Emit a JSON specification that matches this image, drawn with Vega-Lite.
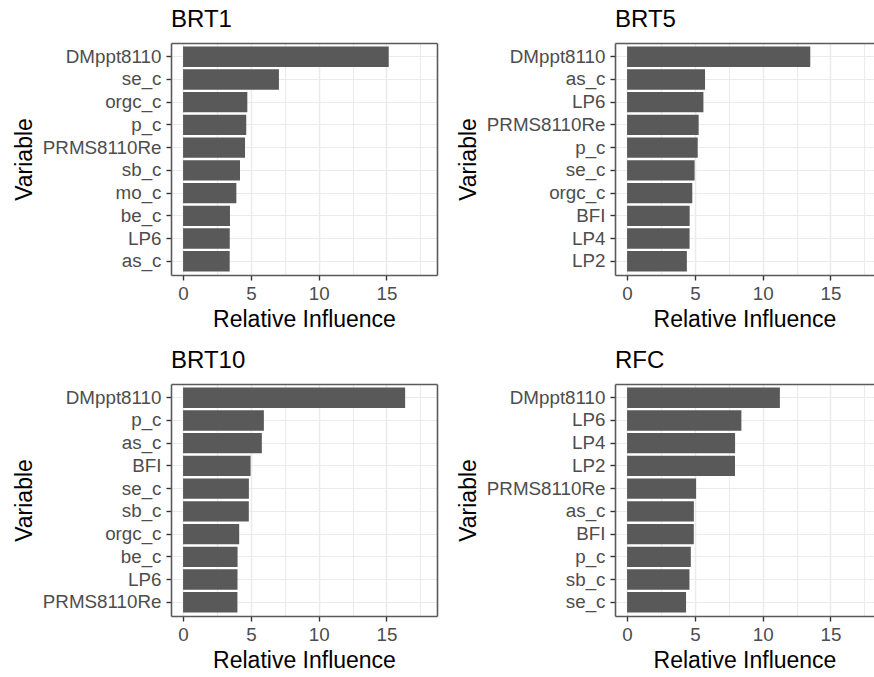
{
  "$schema": "https://vega.github.io/schema/vega-lite/v6.json",
  "padding": {"left": 13, "top": 8, "right": 0, "bottom": 0},
  "background": "white",
  "data": {"values": [
    {"model": "BRT1", "variable": "DMppt8110", "influence": 15.17},
    {"model": "BRT1", "variable": "se_c", "influence": 7.07},
    {"model": "BRT1", "variable": "orgc_c", "influence": 4.74},
    {"model": "BRT1", "variable": "p_c", "influence": 4.66},
    {"model": "BRT1", "variable": "PRMS8110Re", "influence": 4.57},
    {"model": "BRT1", "variable": "sb_c", "influence": 4.2},
    {"model": "BRT1", "variable": "mo_c", "influence": 3.93},
    {"model": "BRT1", "variable": "be_c", "influence": 3.46},
    {"model": "BRT1", "variable": "LP6", "influence": 3.445},
    {"model": "BRT1", "variable": "as_c", "influence": 3.44},
    {"model": "BRT5", "variable": "DMppt8110", "influence": 13.51},
    {"model": "BRT5", "variable": "as_c", "influence": 5.75},
    {"model": "BRT5", "variable": "LP6", "influence": 5.63},
    {"model": "BRT5", "variable": "PRMS8110Re", "influence": 5.28},
    {"model": "BRT5", "variable": "p_c", "influence": 5.21},
    {"model": "BRT5", "variable": "se_c", "influence": 4.98},
    {"model": "BRT5", "variable": "orgc_c", "influence": 4.81},
    {"model": "BRT5", "variable": "BFI", "influence": 4.615},
    {"model": "BRT5", "variable": "LP4", "influence": 4.61},
    {"model": "BRT5", "variable": "LP2", "influence": 4.41},
    {"model": "BRT10", "variable": "DMppt8110", "influence": 16.38},
    {"model": "BRT10", "variable": "p_c", "influence": 5.96},
    {"model": "BRT10", "variable": "as_c", "influence": 5.81},
    {"model": "BRT10", "variable": "BFI", "influence": 4.98},
    {"model": "BRT10", "variable": "se_c", "influence": 4.855},
    {"model": "BRT10", "variable": "sb_c", "influence": 4.85},
    {"model": "BRT10", "variable": "orgc_c", "influence": 4.14},
    {"model": "BRT10", "variable": "be_c", "influence": 4.02},
    {"model": "BRT10", "variable": "LP6", "influence": 4.015},
    {"model": "BRT10", "variable": "PRMS8110Re", "influence": 4.01},
    {"model": "RFC", "variable": "DMppt8110", "influence": 11.27},
    {"model": "RFC", "variable": "LP6", "influence": 8.43},
    {"model": "RFC", "variable": "LP4", "influence": 7.965},
    {"model": "RFC", "variable": "LP2", "influence": 7.96},
    {"model": "RFC", "variable": "PRMS8110Re", "influence": 5.09},
    {"model": "RFC", "variable": "as_c", "influence": 4.925},
    {"model": "RFC", "variable": "BFI", "influence": 4.92},
    {"model": "RFC", "variable": "p_c", "influence": 4.7},
    {"model": "RFC", "variable": "sb_c", "influence": 4.6},
    {"model": "RFC", "variable": "se_c", "influence": 4.35}
  ]},
  "columns": 2,
  "spacing": {"column": 20, "row": 17},
  "concat": [
    {
      "title": {"text": "BRT1"},
      "width": 266, "height": 232,
      "transform": [{"filter": "datum.model === 'BRT1'"}],
      "layer": [
        {
          "mark": {"type": "bar", "color": "#595959"},
          "encoding": {
            "y": {"field": "variable", "type": "nominal", "sort": "-x", "title": "Variable",
                  "scale": {"paddingInner": 0.1, "paddingOuter": 0.15},
                  "axis": {"orient": "left", "grid": true, "bandPosition": 0.5}},
            "x": {"field": "influence", "type": "quantitative", "title": "Relative Influence",
                  "scale": {"domain": [-0.89, 18.73], "nice": false, "zero": false},
                  "axis": {"orient": "bottom", "values": [0, 2.5, 5, 7.5, 10, 12.5, 15, 17.5],
                           "labelExpr": "datum.value % 5 === 0 ? datum.label : ''",
                           "tickOpacity": {"condition": {"test": "datum.value % 5 !== 0", "value": 0}, "value": 1},
                           "gridWidth": {"condition": {"test": "datum.value % 5 !== 0", "value": 1.1}, "value": 1.5}}},
            "x2": {"datum": 0}
          }
        },
        {
          "mark": {"type": "point", "opacity": 0},
          "encoding": {
            "y": {"field": "variable", "type": "nominal", "sort": "-x",
                  "axis": {"orient": "right", "domain": true, "ticks": false, "labels": false, "grid": false, "title": null}},
            "x": {"field": "influence", "type": "quantitative",
                  "axis": {"orient": "top", "domain": true, "ticks": false, "labels": false, "grid": false, "title": null}}
          }
        }
      ],
      "resolve": {"axis": {"x": "independent", "y": "independent"}}
    },
    {
      "title": {"text": "BRT5"},
      "width": 259, "height": 232,
      "transform": [{"filter": "datum.model === 'BRT5'"}],
      "layer": [
        {
          "mark": {"type": "bar", "color": "#595959"},
          "encoding": {
            "y": {"field": "variable", "type": "nominal", "sort": "-x", "title": "Variable",
                  "scale": {"paddingInner": 0.1, "paddingOuter": 0.15},
                  "axis": {"orient": "left", "grid": true, "bandPosition": 0.5}},
            "x": {"field": "influence", "type": "quantitative", "title": "Relative Influence",
                  "scale": {"domain": [-0.89, 18.21], "nice": false, "zero": false},
                  "axis": {"orient": "bottom", "values": [0, 2.5, 5, 7.5, 10, 12.5, 15, 17.5],
                           "labelExpr": "datum.value % 5 === 0 ? datum.label : ''",
                           "tickOpacity": {"condition": {"test": "datum.value % 5 !== 0", "value": 0}, "value": 1},
                           "gridWidth": {"condition": {"test": "datum.value % 5 !== 0", "value": 1.1}, "value": 1.5}}},
            "x2": {"datum": 0}
          }
        },
        {
          "mark": {"type": "point", "opacity": 0},
          "encoding": {
            "x": {"field": "influence", "type": "quantitative",
                  "axis": {"orient": "top", "domain": true, "ticks": false, "labels": false, "grid": false, "title": null}}
          }
        }
      ],
      "resolve": {"axis": {"x": "independent"}}
    },
    {
      "title": {"text": "BRT10"},
      "width": 266, "height": 232,
      "transform": [{"filter": "datum.model === 'BRT10'"}],
      "layer": [
        {
          "mark": {"type": "bar", "color": "#595959"},
          "encoding": {
            "y": {"field": "variable", "type": "nominal", "sort": "-x", "title": "Variable",
                  "scale": {"paddingInner": 0.1, "paddingOuter": 0.15},
                  "axis": {"orient": "left", "grid": true, "bandPosition": 0.5}},
            "x": {"field": "influence", "type": "quantitative", "title": "Relative Influence",
                  "scale": {"domain": [-0.89, 18.73], "nice": false, "zero": false},
                  "axis": {"orient": "bottom", "values": [0, 2.5, 5, 7.5, 10, 12.5, 15, 17.5],
                           "labelExpr": "datum.value % 5 === 0 ? datum.label : ''",
                           "tickOpacity": {"condition": {"test": "datum.value % 5 !== 0", "value": 0}, "value": 1},
                           "gridWidth": {"condition": {"test": "datum.value % 5 !== 0", "value": 1.1}, "value": 1.5}}},
            "x2": {"datum": 0}
          }
        },
        {
          "mark": {"type": "point", "opacity": 0},
          "encoding": {
            "y": {"field": "variable", "type": "nominal", "sort": "-x",
                  "axis": {"orient": "right", "domain": true, "ticks": false, "labels": false, "grid": false, "title": null}},
            "x": {"field": "influence", "type": "quantitative",
                  "axis": {"orient": "top", "domain": true, "ticks": false, "labels": false, "grid": false, "title": null}}
          }
        }
      ],
      "resolve": {"axis": {"x": "independent", "y": "independent"}}
    },
    {
      "title": {"text": "RFC"},
      "width": 259, "height": 232,
      "transform": [{"filter": "datum.model === 'RFC'"}],
      "layer": [
        {
          "mark": {"type": "bar", "color": "#595959"},
          "encoding": {
            "y": {"field": "variable", "type": "nominal", "sort": "-x", "title": "Variable",
                  "scale": {"paddingInner": 0.1, "paddingOuter": 0.15},
                  "axis": {"orient": "left", "grid": true, "bandPosition": 0.5}},
            "x": {"field": "influence", "type": "quantitative", "title": "Relative Influence",
                  "scale": {"domain": [-0.89, 18.21], "nice": false, "zero": false},
                  "axis": {"orient": "bottom", "values": [0, 2.5, 5, 7.5, 10, 12.5, 15, 17.5],
                           "labelExpr": "datum.value % 5 === 0 ? datum.label : ''",
                           "tickOpacity": {"condition": {"test": "datum.value % 5 !== 0", "value": 0}, "value": 1},
                           "gridWidth": {"condition": {"test": "datum.value % 5 !== 0", "value": 1.1}, "value": 1.5}}},
            "x2": {"datum": 0}
          }
        },
        {
          "mark": {"type": "point", "opacity": 0},
          "encoding": {
            "x": {"field": "influence", "type": "quantitative",
                  "axis": {"orient": "top", "domain": true, "ticks": false, "labels": false, "grid": false, "title": null}}
          }
        }
      ],
      "resolve": {"axis": {"x": "independent"}}
    }
  ],
  "config": {
    "font": "Liberation Sans",
    "view": {"stroke": null},
    "title": {"font": "Liberation Sans", "fontSize": 24, "fontWeight": "normal", "color": "#000000", "anchor": "start", "frame": "group", "offset": 11},
    "axis": {
      "labelFont": "Liberation Sans", "labelFontSize": 18.8, "labelColor": "#4D4D4D",
      "titleFont": "Liberation Sans", "titleFontSize": 23, "titleFontWeight": "normal", "titleColor": "#000000",
      "domainColor": "#5A5A5A", "domainWidth": 1.6,
      "tickColor": "#333333", "tickWidth": 1.4, "tickSize": 5,
      "gridColor": "#EBEBEB", "labelPadding": 4, "titlePadding": 6
    },
    "axisY": {"labelPadding": 5}
  }
}
